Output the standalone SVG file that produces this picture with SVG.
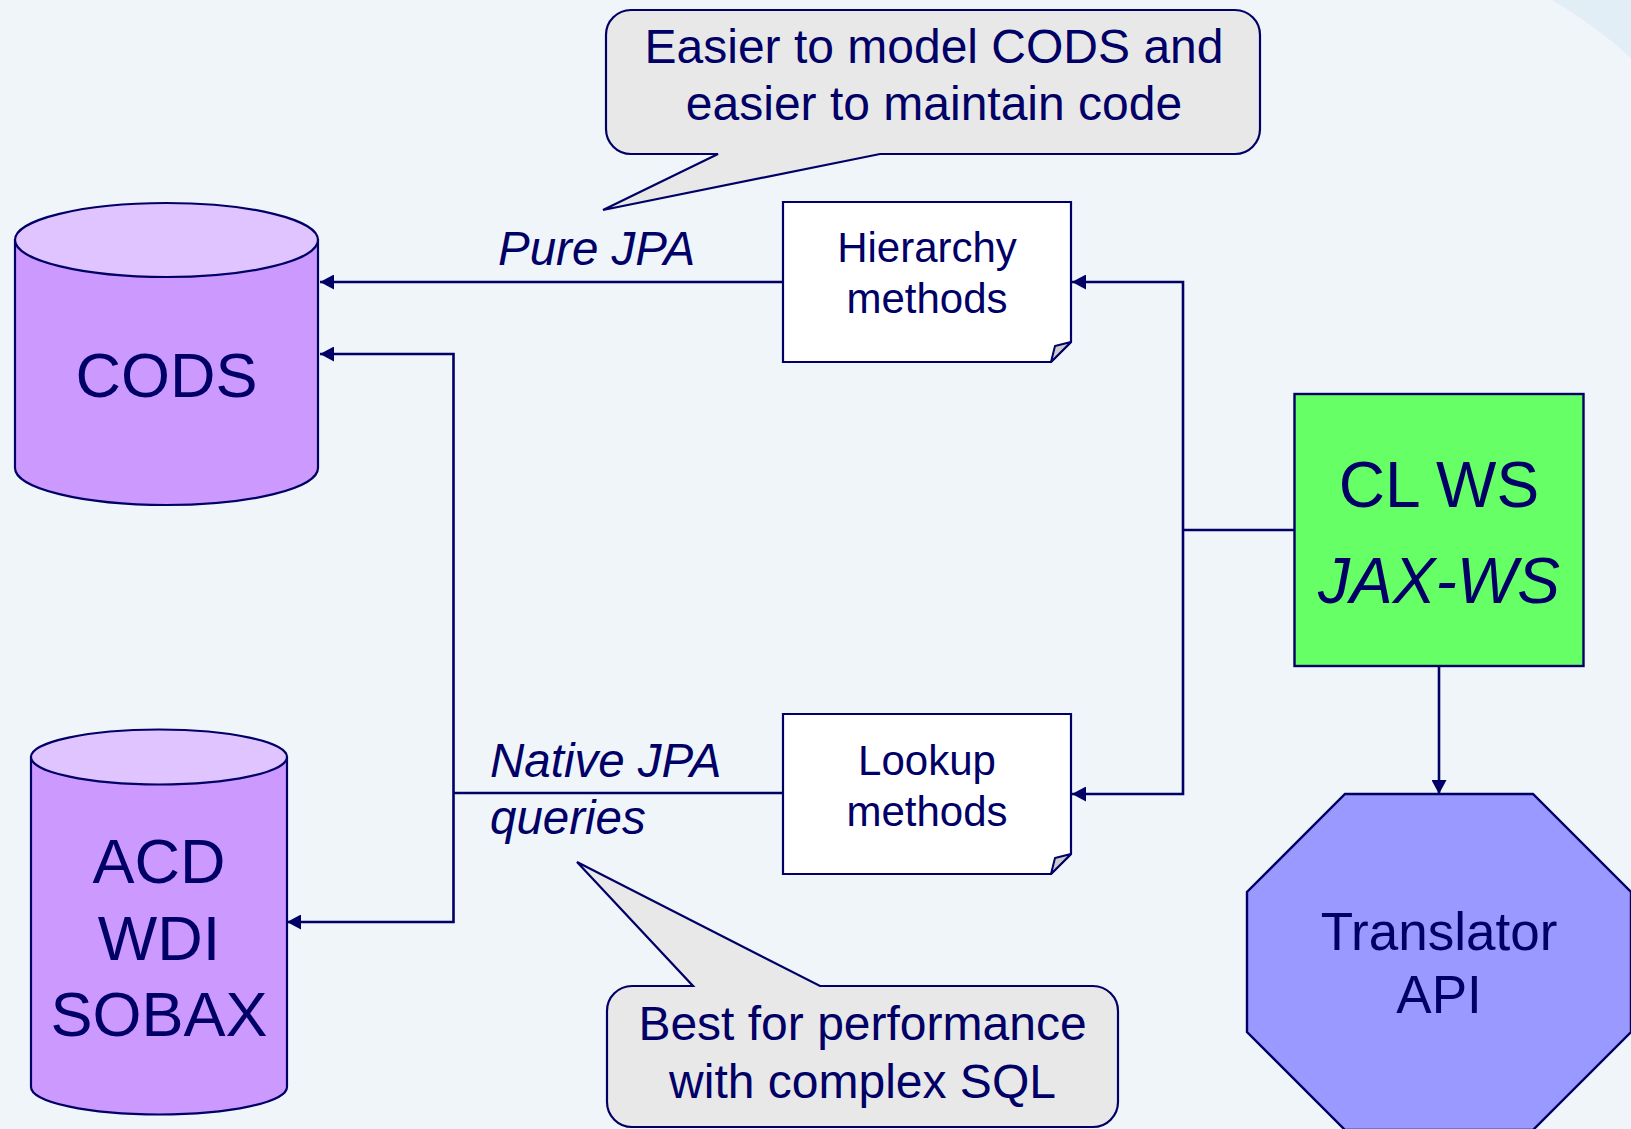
<svg xmlns="http://www.w3.org/2000/svg" width="1631" height="1129" viewBox="0 0 1631 1129">
  <defs>
    <style>
      .ln { fill: none; stroke: #000066; stroke-width: 2.6; }
      .shape { stroke: #000066; stroke-width: 2.4; }
      .t { font-family: "Liberation Sans", Arial, sans-serif; fill: #000066; text-anchor: middle; }
      .lbl { font-family: "Liberation Sans", Arial, sans-serif; fill: #000066; font-style: italic; font-size: 47.5px; }
      .call { fill: #e8e8e8; stroke: #000066; stroke-width: 2.2; }
      .cyl-body { fill: #cc99ff; stroke: #000066; stroke-width: 2.2; }
      .cyl-top { fill: #e0c4ff; stroke: #000066; stroke-width: 2.2; }
      .note { fill: #ffffff; stroke: #000066; stroke-width: 2.2; }
      .fold { fill: #cccccc; stroke: #000066; stroke-width: 2; stroke-linejoin: round; }
    </style>
    <marker id="arrow" viewBox="0 0 14 15" refX="14" refY="7.5" markerWidth="14" markerHeight="15" markerUnits="userSpaceOnUse" orient="auto">
      <path d="M0,0 L14,7.5 L0,15 Z" fill="#000066"/>
    </marker>
  </defs>

  <!-- page background -->
  <rect x="0" y="0" width="1631" height="1129" fill="#f0f5fa"/>
  <path d="M1552,0 Q1596,26 1631,58 L1631,0 Z" fill="#e2eef6"/>

  <!-- connectors -->
  <g id="connectors">
    <path class="ln" d="M783,282 H320" marker-end="url(#arrow)"/>
    <path class="ln" d="M783,793 H453.5"/>
    <path class="ln" d="M453.5,793 V354 H320" marker-end="url(#arrow)"/>
    <path class="ln" d="M453.5,793 V922 H287" marker-end="url(#arrow)"/>
    <path class="ln" d="M1294.5,530 H1183"/>
    <path class="ln" d="M1183,530 V282 H1072" marker-end="url(#arrow)"/>
    <path class="ln" d="M1183,530 V794 H1072" marker-end="url(#arrow)"/>
    <path class="ln" d="M1439,666 V794" marker-end="url(#arrow)"/>
  </g>

  <!-- connector labels -->
  <g id="labels">
    <text class="lbl" x="498" y="265">Pure JPA</text>
    <text class="lbl" x="490" y="777">Native JPA</text>
    <text class="lbl" x="490" y="834">queries</text>
  </g>

  <!-- CODS database -->
  <g id="cods">
    <path class="cyl-body" d="M15,240 V468 A151.5,37 0 0 0 318,468 V240 Z"/>
    <ellipse class="cyl-top" cx="166.5" cy="240" rx="151.5" ry="37"/>
    <text class="t" x="166.5" y="397" font-size="63">CODS</text>
  </g>

  <!-- ACD / WDI / SOBAX database -->
  <g id="acd">
    <path class="cyl-body" d="M31,757 V1087 A128,27.5 0 0 0 287,1087 V757 Z"/>
    <ellipse class="cyl-top" cx="159" cy="757" rx="128" ry="27.5"/>
    <text class="t" x="159" y="883" font-size="63">ACD</text>
    <text class="t" x="159" y="960" font-size="63">WDI</text>
    <text class="t" x="159" y="1036" font-size="63">SOBAX</text>
  </g>

  <!-- Hierarchy methods note -->
  <g id="hierarchy">
    <path class="note" d="M783,202 H1071 V342 L1051,362 H783 Z"/>
    <path class="fold" d="M1051,362 L1055,346 L1071,342 Z"/>
    <text class="t" x="927" y="262" font-size="42">Hierarchy</text>
    <text class="t" x="927" y="313" font-size="42">methods</text>
  </g>

  <!-- Lookup methods note -->
  <g id="lookup">
    <path class="note" d="M783,714 H1071 V854 L1051,874 H783 Z"/>
    <path class="fold" d="M1051,874 L1055,858 L1071,854 Z"/>
    <text class="t" x="927" y="775" font-size="42">Lookup</text>
    <text class="t" x="927" y="826" font-size="42">methods</text>
  </g>

  <!-- CL WS service -->
  <g id="clws">
    <rect class="shape" x="1294.5" y="394" width="289" height="272" fill="#66ff66"/>
    <text class="t" x="1439" y="507" font-size="64">CL WS</text>
    <text class="t" x="1439" y="603" font-size="64" font-style="italic">JAX-WS</text>
  </g>

  <!-- Translator API -->
  <g id="translator">
    <polygon class="shape" fill="#9999ff" points="1345,794 1533,794 1631,892 1631,1032 1533,1130 1345,1130 1247,1032 1247,892"/>
    <text class="t" x="1439" y="950" font-size="53">Translator</text>
    <text class="t" x="1439" y="1013" font-size="53">API</text>
  </g>

  <!-- callout: pure JPA -->
  <g id="callout-top">
    <path class="call" d="M631,10 H1235 A25,25 0 0 1 1260,35 V129 A25,25 0 0 1 1235,154 H880 L603,210 L718,154 H631 A25,25 0 0 1 606,129 V35 A25,25 0 0 1 631,10 Z"/>
    <text class="t" x="934" y="63" font-size="48">Easier to model CODS and</text>
    <text class="t" x="934" y="120" font-size="48">easier to maintain code</text>
  </g>

  <!-- callout: native queries -->
  <g id="callout-bottom">
    <path class="call" d="M632,986 H693 L577,862 L820,986 H1093 A25,25 0 0 1 1118,1011 V1102 A25,25 0 0 1 1093,1127 H632 A25,25 0 0 1 607,1102 V1011 A25,25 0 0 1 632,986 Z"/>
    <text class="t" x="862.5" y="1040" font-size="48">Best for performance</text>
    <text class="t" x="862.5" y="1098" font-size="48">with complex SQL</text>
  </g>
</svg>
